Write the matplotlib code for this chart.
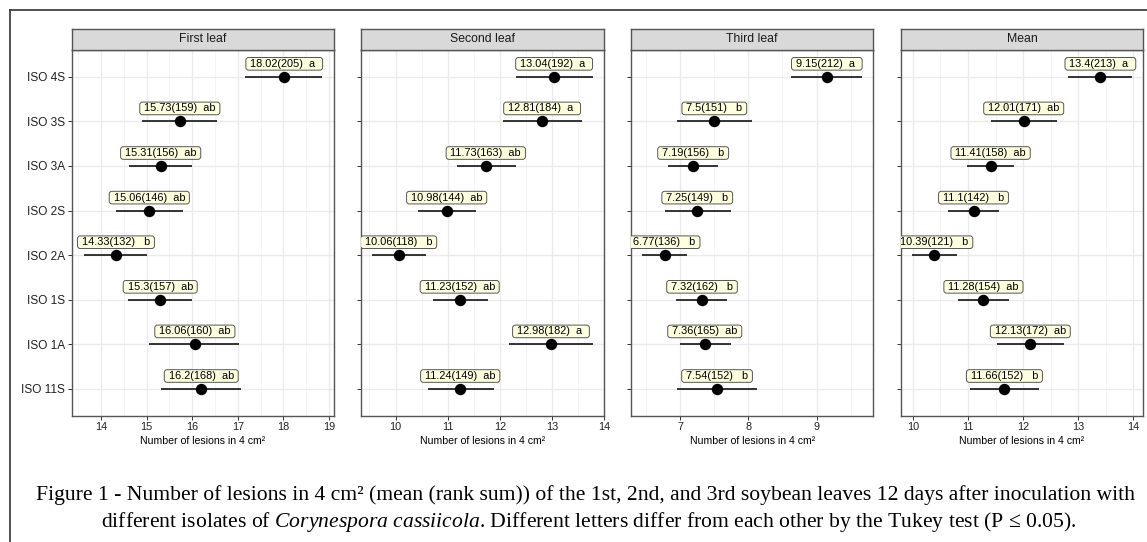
import numpy as np
import matplotlib
matplotlib.use("Agg")
import matplotlib.pyplot as plt
from matplotlib.ticker import MultipleLocator
from matplotlib.lines import Line2D

plt.rcParams['font.family'] = ['Liberation Sans', 'DejaVu Sans']
plt.rcParams['mathtext.fontset'] = 'custom'
plt.rcParams['mathtext.rm'] = 'Liberation Serif'
plt.rcParams['mathtext.it'] = 'Liberation Serif:italic'

# ---------------- data (top to bottom) ----------------
isolates = ["ISO 4S", "ISO 3S", "ISO 3A", "ISO 2S", "ISO 2A", "ISO 1S", "ISO 1A", "ISO 11S"]
panels = ["First leaf", "Second leaf", "Third leaf", "Mean"]

first_mean = [18.02, 15.73, 15.31, 15.06, 14.33, 15.3, 16.06, 16.2]
first_rank = [205, 159, 156, 146, 132, 157, 160, 168]
first_letters = ["a ", "ab", "ab", "ab", " b", "ab", "ab", "ab"]
first_lo = [17.16, 14.91, 14.61, 14.33, 13.62, 14.60, 15.06, 15.31]
first_hi = [18.85, 16.55, 16.00, 15.79, 15.02, 15.99, 17.03, 17.07]

second_mean = [13.04, 12.81, 11.73, 10.98, 10.06, 11.23, 12.98, 11.24]
second_rank = [192, 184, 163, 144, 118, 152, 182, 149]
second_letters = ["a ", "a ", "ab", "ab", " b", "ab", "a ", "ab"]
second_lo = [12.31, 12.06, 11.17, 10.43, 9.55, 10.71, 12.18, 10.62]
second_hi = [13.79, 13.58, 12.31, 11.54, 10.58, 11.77, 13.79, 11.88]

third_mean = [9.15, 7.5, 7.19, 7.25, 6.77, 7.32, 7.36, 7.54]
third_rank = [212, 151, 156, 149, 136, 162, 165, 152]
third_letters = ["a ", " b", " b", " b", " b", " b", "ab", " b"]
third_lo = [8.62, 6.96, 6.82, 6.77, 6.44, 6.94, 6.99, 6.96]
third_hi = [9.67, 8.06, 7.56, 7.74, 7.10, 7.69, 7.75, 8.12]

avg_mean = [13.4, 12.01, 11.41, 11.1, 10.39, 11.28, 12.13, 11.66]
avg_rank = [213, 171, 158, 142, 121, 154, 172, 152]
avg_letters = ["a ", "ab", "ab", " b", " b", "ab", "ab", " b"]
avg_lo = [12.82, 11.42, 10.99, 10.63, 9.98, 10.82, 11.52, 11.04]
avg_hi = [13.98, 12.61, 11.83, 11.56, 10.80, 11.74, 12.74, 12.28]

x_label = "Number of lesions in 4 cm\u00b2"
caption1 = ("Figure 1 - Number of lesions in 4 cm\u00b2 (mean (rank sum)) of the 1st, 2nd, "
            "and 3rd soybean leaves 12 days after inoculation with")
caption2 = (r"different isolates of $\mathit{Corynespora\ cassiicola}$. Different letters "
            "differ from each other by the Tukey test (P \u2264 0.05).")

series = [
    (first_mean, first_rank, first_letters, first_lo, first_hi),
    (second_mean, second_rank, second_letters, second_lo, second_hi),
    (third_mean, third_rank, third_letters, third_lo, third_hi),
    (avg_mean, avg_rank, avg_letters, avg_lo, avg_hi),
]

# ---------------- layout ----------------
W, H = 1147, 542
fig = plt.figure(figsize=(W / 100, H / 100), dpi=100)
panel_x = [(71.7, 334.0), (361.0, 604.3), (631.0, 873.3), (900.7, 1143.4)]
p_top, p_bot, s_top = 50.0, 415.7, 29.0

n = len(isolates)
pos = np.arange(n)[::-1]

for k, (name, (mean, rank, letters, lo, hi)) in enumerate(zip(panels, series)):
    x0, x1 = panel_x[k]
    ax = fig.add_axes([x0 / W, 1 - p_bot / H, (x1 - x0) / W, (p_bot - p_top) / H])
    ax.set_facecolor('white')
    lo_all, hi_all = min(lo), max(hi)
    ext = 0.05 * (hi_all - lo_all)
    ax.set_xlim(lo_all - ext, hi_all + ext)
    ax.set_ylim(-0.6, n - 0.4)
    ax.xaxis.set_major_locator(MultipleLocator(1))
    ax.xaxis.set_minor_locator(MultipleLocator(0.5))
    ax.set_yticks(pos)
    ax.set_yticklabels(isolates if k == 0 else [])
    ax.grid(which='major', color='#EBEBEB', lw=1.0, zorder=0)
    ax.grid(which='minor', axis='x', color='#F2F2F2', lw=0.6, zorder=0)
    ax.set_axisbelow(True)
    for sp in ax.spines.values():
        sp.set_color('#555555')
        sp.set_linewidth(1.0)
    ax.tick_params(axis='both', which='major', length=2.6, width=0.7, color='#333333',
                   labelcolor='#222222', pad=2)
    ax.tick_params(axis='x', labelsize=7.8)
    ax.tick_params(axis='y', labelsize=8.6)
    ax.tick_params(which='minor', length=0)

    ax.hlines(pos, lo, hi, color='black', lw=1.1, zorder=3)
    ax.plot(mean, pos, 'o', ms=7.2, color='black', zorder=4)
    for m, r, L, p in zip(mean, rank, letters, pos):
        t = ax.text(m, p + 0.29, f" {m:g}({r})  {L} ", ha='center', va='center',
                    fontsize=7.9, color='black', zorder=5,
                    bbox=dict(boxstyle='round,pad=0.12,rounding_size=0.25',
                              fc='#FFFFE0', ec='#555555', lw=0.7))
        t.set_clip_path(ax.patch)
        t.set_clip_on(True)
    ax.set_xlabel(x_label, fontsize=7.6, labelpad=2.5, color='black')

    sax = fig.add_axes([x0 / W, 1 - p_top / H, (x1 - x0) / W, (p_top - s_top) / H])
    sax.set_facecolor('#D9D9D9')
    sax.set_xticks([])
    sax.set_yticks([])
    for sp in sax.spines.values():
        sp.set_color('#555555')
        sp.set_linewidth(1.0)
    sax.text(0.5, 0.5, name, ha='center', va='center', fontsize=8.8,
             color='#1A1A1A', transform=sax.transAxes)

# caption
fig.text(585.2 / W, 1 - 495.5 / H, caption1, ha='center', va='center',
         family='Liberation Serif', fontsize=15.6)
fig.text(589.0 / W, 1 - 521.5 / H, caption2, ha='center', va='center',
         family='Liberation Serif', fontsize=15.6)

# outer frame (left and top edges visible)
fig.add_artist(Line2D([10 / W, 10 / W], [1 - 10 / H, 0], transform=fig.transFigure,
                      color='#333333', lw=1.2))
fig.add_artist(Line2D([10 / W, 1], [1 - 10 / H, 1 - 10 / H], transform=fig.transFigure,
                      color='#333333', lw=1.2))

fig.savefig("out.png", dpi=100)
